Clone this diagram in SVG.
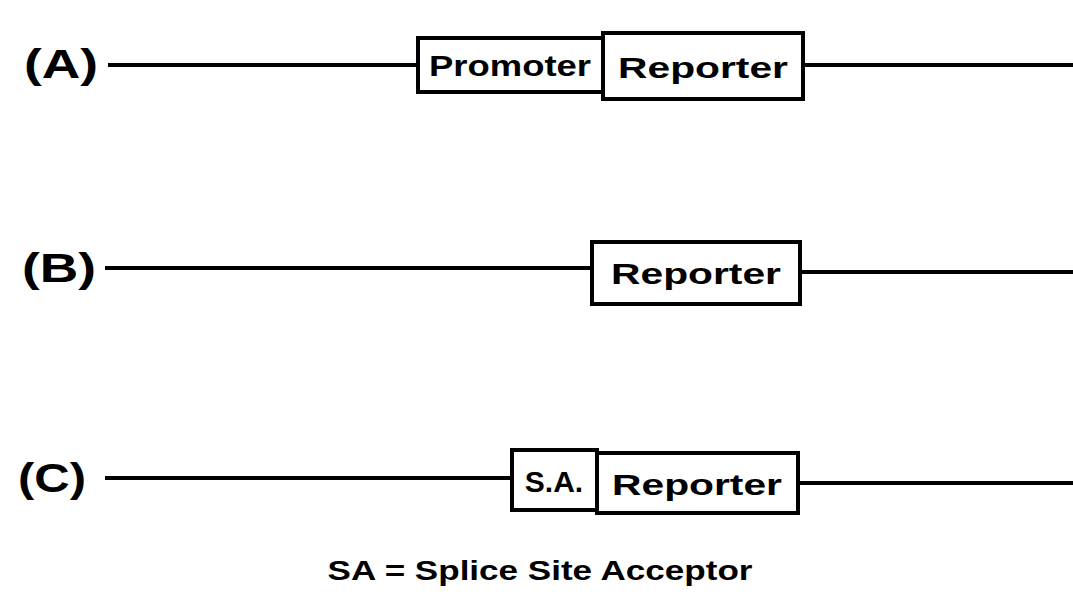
<svg xmlns="http://www.w3.org/2000/svg" width="1073" height="603" viewBox="0 0 1073 603">
<style>
.lbl{font-family:"Liberation Sans",Arial,sans-serif;font-weight:bold;font-size:40px;fill:#000}
.box{fill:#fff;stroke:#000;stroke-width:4}
.bt{font-family:"Liberation Sans",Arial,sans-serif;font-weight:bold;font-size:30px;fill:#000;text-anchor:middle}
.ln{stroke:#000;stroke-width:4;fill:none}
.leg{font-family:"Liberation Sans",Arial,sans-serif;font-weight:bold;font-size:28px;fill:#000;text-anchor:middle}
</style>
<rect width="1073" height="603" fill="#fff"/>
<g id="connectors">
<line class="ln" x1="108" y1="65" x2="418" y2="65"/>
<line class="ln" x1="803" y1="65" x2="1073" y2="65"/>
<line class="ln" x1="105" y1="268" x2="592" y2="268"/>
<line class="ln" x1="800" y1="272" x2="1073" y2="272"/>
<line class="ln" x1="105" y1="478" x2="512" y2="478"/>
<line class="ln" x1="798" y1="483" x2="1073" y2="483"/>
</g>
<text class="lbl" x="24" y="78" textLength="74" lengthAdjust="spacingAndGlyphs">(A)</text>
<text class="lbl" x="22" y="282" textLength="74" lengthAdjust="spacingAndGlyphs">(B)</text>
<text class="lbl" x="18" y="492" textLength="68" lengthAdjust="spacingAndGlyphs">(C)</text>
<g id="promoterA">
<rect class="box" x="418" y="38" width="185" height="54"/>
<text class="bt" x="510" y="76" textLength="162" lengthAdjust="spacingAndGlyphs">Promoter</text>
</g>
<g id="reporterA">
<rect class="box" x="603" y="33" width="200" height="66"/>
<text class="bt" x="703" y="78" textLength="170" lengthAdjust="spacingAndGlyphs">Reporter</text>
</g>
<g id="reporterB">
<rect class="box" x="592" y="242" width="208" height="62"/>
<text class="bt" x="696" y="284" textLength="170" lengthAdjust="spacingAndGlyphs">Reporter</text>
</g>
<g id="saC">
<rect class="box" x="512" y="450" width="85" height="60"/>
<text class="bt" x="554" y="492">S.A.</text>
</g>
<g id="reporterC">
<rect class="box" x="597" y="453" width="201" height="60"/>
<text class="bt" x="697" y="495" textLength="170" lengthAdjust="spacingAndGlyphs">Reporter</text>
</g>
<text class="leg" x="540" y="580" textLength="425" lengthAdjust="spacingAndGlyphs">SA = Splice Site Acceptor</text>
</svg>
